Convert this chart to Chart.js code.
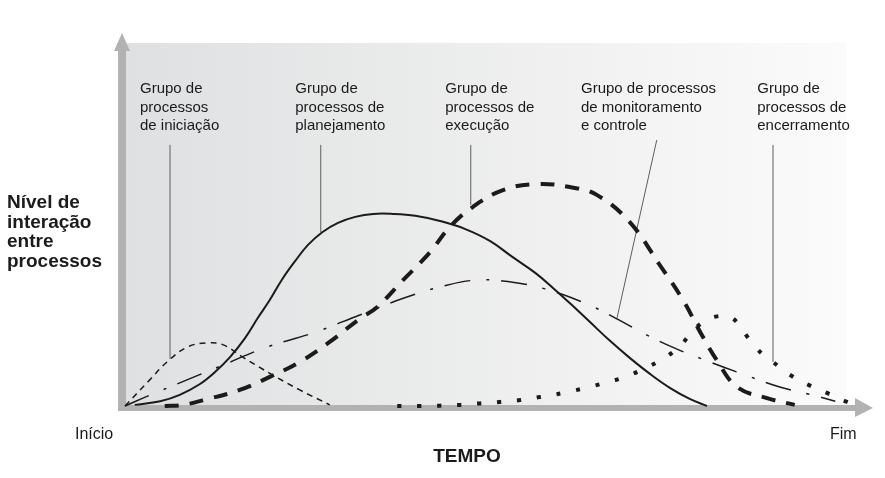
<!DOCTYPE html>
<html><head><meta charset="utf-8">
<script src="https://cdn.jsdelivr.net/npm/chart.js@4.4.1/dist/chart.umd.min.js"></script>
<style>html,body{margin:0;padding:0;background:#fff}#wrap{position:relative;width:885px;height:478px}</style>
</head><body><div id="wrap"><canvas id="c" width="885" height="478"></canvas></div>
<script>
// Time axis 0..100 (Início..Fim), interaction level 0..100
const seriesNames = ['Grupo de processos de iniciação','Grupo de processos de planejamento','Grupo de processos de execução','Grupo de processos de monitoramento e controle','Grupo de processos de encerramento'];

const initiationX = [0.4, 3.7, 6.0, 8.7, 11.3, 13.5, 16.1, 20.1, 23.7, 27.7];
const initiationY = [0, 7.0, 11.8, 15.8, 16.9, 16.4, 13.1, 8.3, 4.3, 0.3];

const planningX = [1.7, 5.1, 7.7, 10.4, 12.4, 14.4, 16.4, 18.1, 19.7, 21.3, 23.1, 24.8, 26.7, 28.8, 31.1, 33.5, 36.1, 39.1, 42.4, 45.7, 49.1, 52.1, 55.1, 57.5, 59.7, 62.4, 65.1, 67.7, 70.4, 73.1, 75.7, 78.0];
const planningY = [0.3, 1.3, 3.0, 5.9, 9.1, 13.1, 18.2, 23.6, 28.4, 33.8, 38.9, 43.2, 46.6, 49.1, 50.7, 51.5, 51.5, 51.0, 49.6, 47.5, 44.2, 39.9, 35.7, 31.6, 27.6, 22.5, 17.4, 12.9, 8.6, 4.8, 1.9, 0];

const executionX = [5.7, 8.1, 11.5, 15.7, 19.7, 23.7, 27.5, 31.5, 34.0, 37.5, 41.1, 43.7, 46.8, 50.8, 55.3, 59.7, 63.3, 67.7, 71.7, 74.8, 77.1, 79.3, 82.0, 86.0, 89.7];
const executionY = [0, 0.3, 1.9, 4.3, 7.8, 11.8, 16.9, 23.1, 26.5, 33.8, 41.3, 48.0, 53.4, 57.9, 59.5, 58.7, 56.6, 49.3, 37.8, 28.4, 19.8, 12.3, 5.1, 2.1, 0.3];

const monitoringX = [0.4, 3.7, 7.7, 13.5, 19.3, 25.5, 31.7, 37.7, 43.3, 47.7, 52.1, 56.4, 61.7, 65.3, 70.0, 73.7, 78.4, 82.7, 87.7, 91.5, 95.1];
const monitoringY = [0, 2.9, 6.2, 11.0, 15.8, 19.6, 24.4, 29.0, 32.4, 33.8, 33.2, 31.4, 27.6, 24.1, 19.0, 15.5, 11.8, 8.6, 5.1, 3.2, 1.3];

const closingX = [36.7, 39.7, 42.4, 45.1, 47.7, 50.4, 53.1, 55.7, 58.8, 61.7, 64.4, 67.1, 69.5, 72.1, 74.4, 76.1, 77.7, 79.5, 81.1, 82.4, 83.5, 84.7, 85.7, 86.8, 89.1, 91.6, 94.0, 96.7, 98.7];
const closingY = [0, 0, 0.1, 0.3, 0.7, 1.1, 1.6, 2.4, 3.5, 4.8, 6.2, 7.8, 9.9, 12.6, 16.1, 20.1, 22.8, 24.1, 23.9, 21.4, 18.2, 15.3, 13.4, 11.8, 8.3, 5.6, 3.5, 1.1, 0];

// Group label texts and their leader lines (in data units)
const groupLabels = [
  ['Grupo de','processos','de iniciação'],
  ['Grupo de','processos de','planejamento'],
  ['Grupo de','processos de','execução'],
  ['Grupo de processos','de monitoramento','e controle'],
  ['Grupo de','processos de','encerramento']
];
const labelX = [2.4, 23.1, 43.1, 61.2, 84.7];
const labelY = 85.0;
const leaderTopX = [6.4, 26.5, 46.5, 71.3, 86.8];
const leaderTopY = [70.0, 70.0, 70.0, 71.3, 70.0];
const leaderBottomX = [6.4, 26.5, 46.5, 66.0, 86.8];
const leaderBottomY = [12.6, 46.6, 53.9, 23.6, 11.8];

const axisTitleY = ['Nível de','interação','entre','processos'];
const axisTitleX = 'TEMPO';
const axisStart = 'Início', axisEnd = 'Fim';

function pts(xs, ys){ return xs.map((x,i)=>({x:x, y:ys[i]})); }

const ink = '#1c1a1a';
const axisGray = '#b2b2b2';

const decor = {
  id: 'decor',
  beforeDatasetsDraw(chart){
    const ctx = chart.ctx, a = chart.chartArea;
    const sx = chart.scales.x, sy = chart.scales.y;
    ctx.save();
    // background panel
    const g = ctx.createLinearGradient(a.left+3, 0, 846, 0);
    g.addColorStop(0, '#dfe0e1');
    g.addColorStop(1, '#fbfbfb');
    ctx.fillStyle = g;
    ctx.fillRect(a.left+3, 43, 846-(a.left+3), a.bottom-1-43);
    // leader lines
    ctx.strokeStyle = '#5e5e5e';
    ctx.lineWidth = 1;
    for (let i=0;i<groupLabels.length;i++){
      ctx.beginPath();
      ctx.moveTo(sx.getPixelForValue(leaderTopX[i]), sy.getPixelForValue(leaderTopY[i]));
      ctx.lineTo(sx.getPixelForValue(leaderBottomX[i]), sy.getPixelForValue(leaderBottomY[i]));
      ctx.stroke();
    }
    // axes
    ctx.fillStyle = axisGray;
    const ox = a.left, oy = a.bottom + 2;
    ctx.fillRect(ox-4, 48, 8, oy+3-48);
    ctx.beginPath(); ctx.moveTo(ox-8, 51); ctx.lineTo(ox+8, 51); ctx.lineTo(ox, 33); ctx.closePath(); ctx.fill();
    ctx.fillRect(ox-4, oy-3, 856-(ox-4), 6);
    ctx.beginPath(); ctx.moveTo(855, oy-10); ctx.lineTo(855, oy+9); ctx.lineTo(873, oy); ctx.closePath(); ctx.fill();
    // group labels
    ctx.fillStyle = ink;
    ctx.font = '15px "Liberation Sans", Arial, sans-serif';
    ctx.textBaseline = 'middle';
    ctx.textAlign = 'left';
    for (let i=0;i<groupLabels.length;i++){
      const px = sx.getPixelForValue(labelX[i]);
      const py = sy.getPixelForValue(labelY);
      groupLabels[i].forEach((t,j)=>ctx.fillText(t, px, py + j*18.7));
    }
    // axis titles
    ctx.textBaseline = 'alphabetic';
    ctx.font = 'bold 19px "Liberation Sans", Arial, sans-serif';
    axisTitleY.forEach((t,j)=>ctx.fillText(t, 7, 208 + j*19.5));
    ctx.textAlign = 'center';
    ctx.fillText(axisTitleX, 467, 462);
    ctx.font = '16px "Liberation Sans", Arial, sans-serif';
    ctx.textAlign = 'left';
    ctx.fillText(axisStart, 75, 439);
    ctx.fillText(axisEnd, 830, 439);
    ctx.restore();
  }
};

const common = {fill:false, pointRadius:0, borderColor:ink, borderCapStyle:'butt', tension:0.4, clip:false};

new Chart(document.getElementById('c'), {
  type: 'line',
  data: { datasets: [
    Object.assign({label: seriesNames[0], data: pts(initiationX, initiationY), borderWidth:1.5, borderDash:[6,5]}, common),
    Object.assign({label: seriesNames[1], data: pts(planningX, planningY), borderWidth:2}, common),
    Object.assign({label: seriesNames[2], data: pts(executionX, executionY), borderWidth:4, borderDash:[14,11]}, common),
    Object.assign({label: seriesNames[3], data: pts(monitoringX, monitoringY), borderWidth:1.5, borderDash:[26,16,3,12]}, common),
    Object.assign({label: seriesNames[4], data: pts(closingX, closingY), borderWidth:4, borderDash:[4,16]}, common)
  ]},
  options: {
    responsive:false, devicePixelRatio:1, animation:false,
    layout:{padding:{left:122, right:13, top:33, bottom:72}},
    plugins:{legend:{display:false}, tooltip:{enabled:false}},
    scales:{
      x:{type:'linear', min:0, max:100, display:false},
      y:{type:'linear', min:0, max:100, display:false}
    }
  },
  plugins:[decor]
});
</script></body></html>
